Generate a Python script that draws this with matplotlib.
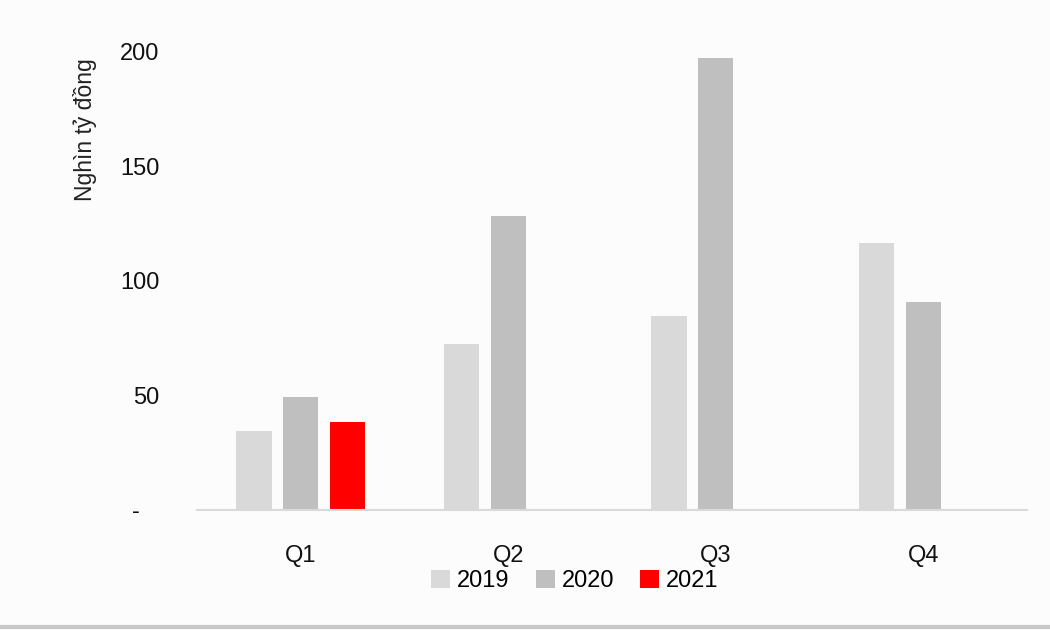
import numpy as np
import matplotlib
matplotlib.use("Agg")
import matplotlib.pyplot as plt
from matplotlib.lines import Line2D

## DATA
quarters = ["Q1", "Q2", "Q3", "Q4"]
years = ["2019", "2020", "2021"]
v2019 = [34.5, 72.5, 84.7, 116.6]
v2020 = [49.3, 128.4, 197.4, 90.8]
v2021 = [38.4, np.nan, np.nan, np.nan]
yticks = [0, 50, 100, 150, 200]
ytick_labels = ["-   ", "50", "100", "150", "200"]

## STYLE
COLORS = ["#d9d9d9", "#bfbfbf", "#ff0000"]
BG = "#fcfcfc"
plt.rcParams["font.family"] = ["Liberation Sans", "DejaVu Sans"]

fig = plt.figure(figsize=(10.5, 6.3), dpi=100, facecolor=BG)
ax = fig.add_axes([0.1876, 0.1905, 0.7904, 0.727])
ax.set_facecolor(BG)

x = np.arange(len(quarters))
w = 0.17
step = 0.225
for i, (vals, yr) in enumerate(zip([v2019, v2020, v2021], years)):
    ax.bar(x + (i - 1) * step, vals, width=w, color=COLORS[i], label=yr)

ax.set_xlim(-0.5, 3.5)
ax.set_ylim(0, 200)
ax.set_xticks(x)
ax.set_xticklabels(quarters)
ax.set_yticks(yticks)
ax.set_yticklabels(ytick_labels)
ax.tick_params(axis="both", length=0, labelsize=17, colors="#111111")
ax.tick_params(axis="x", pad=25)
ax.tick_params(axis="y", pad=27)

for s in ["top", "right", "left"]:
    ax.spines[s].set_visible(False)
ax.spines["bottom"].set_color("#d9d9d9")
ax.spines["bottom"].set_linewidth(1.5)

# y axis label sits at the top, not centred
fig.text(85 / 1050, 1 - 58 / 630, "Nghìn tỷ đồng", rotation=90,
         ha="center", va="top", fontsize=16.5, color="#222222")

leg = fig.legend(loc="center", bbox_to_anchor=(575 / 1050, 1 - 581 / 630),
                 ncol=3, frameon=False, fontsize=17, handlelength=0.8,
                 handleheight=0.8, handletextpad=0.3, columnspacing=1.1)

# grey strip at the very bottom of the picture
fig.add_artist(Line2D([0, 1], [0.004, 0.004], transform=fig.transFigure,
                      color="#c8c8c8", lw=3))

fig.savefig("out.png", dpi=100, facecolor=BG)
